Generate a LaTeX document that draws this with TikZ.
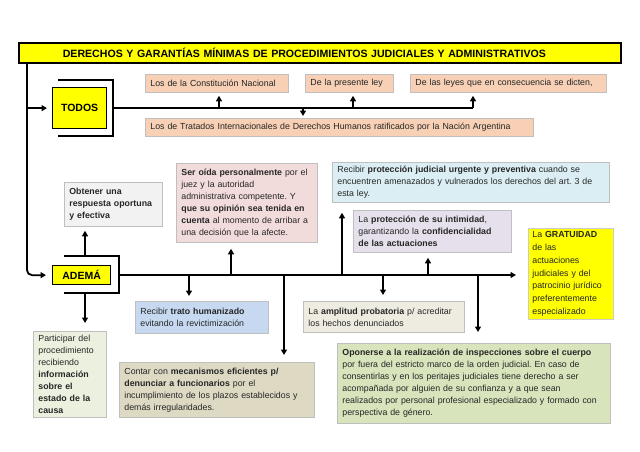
\documentclass[tikz,border=0pt]{standalone}
\usepackage{fontspec}
\setmainfont{Liberation Sans}
\usetikzlibrary{arrows.meta}
\frenchspacing
\definecolor{peach}{HTML}{F7D0B5}
\definecolor{pinkbox}{HTML}{F2DCDB}
\definecolor{lblue}{HTML}{DBEEF4}
\definecolor{lav}{HTML}{E5E0EC}
\definecolor{tblue}{HTML}{C6D9F1}
\definecolor{ampl}{HTML}{EEECE1}
\definecolor{cont}{HTML}{DDD9C3}
\definecolor{opon}{HTML}{D7E4BC}
\definecolor{part}{HTML}{EBF1DE}
\definecolor{obt}{HTML}{F2F2F2}
\definecolor{ylw}{HTML}{FFFF00}
\definecolor{bgray}{HTML}{BFBFBF}
\definecolor{txt}{HTML}{262626}
\tikzset{
  box/.style={draw=bgray, line width=0.8pt, anchor=north west, inner xsep=5pt, inner ysep=2pt,
    align=left, font=\fontsize{8.8}{12}\selectfont\frenchspacing, text=txt},
  ybox/.style={draw=black, line width=1.3pt, fill=ylw, anchor=north west, inner sep=0pt,
    font=\fontsize{10.5}{12}\selectfont\bfseries},
  ln/.style={line width=1.8pt, draw=black},
  arr/.style={ln, -{Triangle[length=5.5pt,width=6pt]}}
}
\begin{document}
\begin{tikzpicture}[x=1pt,y=-1pt]
\useasboundingbox[fill=white] (0,0) rectangle (640,452);

% title
\node[draw=black, line width=1.6pt, fill=ylw, anchor=north west, minimum width=602pt, minimum height=20pt,
  inner xsep=44pt, inner ysep=0pt, text width=514pt, align=left, font=\fontsize{10.6}{12}\selectfont\bfseries]
  (title) at (18,42) {DERECHOS Y GARANTÍAS MÍNIMAS DE PROCEDIMIENTOS JUDICIALES Y ADMINISTRATIVOS};

% TODOS section
\node[ybox, minimum width=54pt, minimum height=41pt] (todos) at (52,87) {TODOS};
\draw[ln] (58,80) -| (113,136) -- (58,136);

\node[box, fill=peach, minimum width=143pt, minimum height=18pt, text width=133pt] (const) at (145,74) {Los de la Constitución Nacional};
\node[box, fill=peach, minimum width=88pt, minimum height=18pt, text width=78pt] (presente) at (305,74) {De la presente ley};
\node[box, fill=peach, minimum width=196pt, minimum height=18pt, text width=186pt] (leyes) at (410,74) {De las leyes que en consecuencia se dicten,};
\node[box, fill=peach, minimum width=388pt, minimum height=18pt, text width=378pt] (tratados) at (145,118) {Los de Tratados Internacionales de Derechos Humanos ratificados por la Nación Argentina};

\coordinate (tb) at (113,108);
\coordinate (t1) at (219,108);
\coordinate (t2) at (353,108);
\coordinate (t3) at (473,108);
\coordinate (t4) at (303,108);
\draw[ln] (tb) -- (t3);
\draw[arr, shorten >=3pt] (t1) -- (t1 |- const.south);
\draw[arr, shorten >=3pt] (t2) -- (t2 |- presente.south);
\draw[arr, shorten >=3pt] (t3) -- (t3 |- leyes.south);
\draw[arr, shorten >=2pt] (t4) -- (t4 |- tratados.north);

% ADEMÁ section
\node[ybox, minimum width=58pt, minimum height=19pt] (adema) at (52,265) {ADEMÁ};
\draw[ln] (64,256) -| (119,293) -- (64,293);

% left vertical line
\coordinate (lx) at (27,0);
\draw[arr, shorten >=5pt] (lx |- todos.west) -- (todos.west);
\draw[arr, rounded corners=5pt, shorten >=6pt] (lx |- title.south) -- (lx |- adema.west) -- (adema.west);

% boxes
\node[box, fill=obt, minimum width=98pt, minimum height=44pt, text width=88pt, font=\fontsize{8.8}{12}\selectfont\bfseries] (obtener) at (64,182)
  {Obtener una\\respuesta oportuna\\y efectiva};
\node[box, fill=pinkbox, minimum width=141pt, minimum height=79pt, text width=131pt] (seroida) at (176,163)
  {\textbf{Ser oída personalmente} por el\\juez y la autoridad\\administrativa competente. Y\\\textbf{que su opinión sea tenida en}\\\textbf{cuenta} al momento de arribar a\\una decisión que la afecte.};
\node[box, fill=lblue, minimum width=277pt, minimum height=40pt, text width=267pt] (proteccion) at (332,162)
  {Recibir \textbf{protección judicial urgente y preventiva} cuando se\\encuentren amenazados y vulnerados los derechos del art. 3 de\\esta ley.};
\node[box, fill=lav, minimum width=158pt, minimum height=42pt, text width=148pt] (intimidad) at (353,210)
  {La \textbf{protección de su intimidad},\\garantizando la \textbf{confidencialidad}\\\textbf{de las actuaciones}};
\node[box, draw=black!20, fill=ylw, minimum width=85pt, minimum height=91pt, text width=77pt, inner xsep=4pt,
  font=\fontsize{8.8}{12.7}\selectfont] (gratuidad) at (528,228)
  {La \textbf{GRATUIDAD}\\de las\\actuaciones\\judiciales y del\\patrocinio jurídico\\preferentemente\\especializado};
\node[box, fill=tblue, minimum width=133pt, minimum height=32pt, text width=123pt] (trato) at (135,301)
  {Recibir \textbf{trato humanizado}\\evitando la revictimización};
\node[box, fill=ampl, minimum width=161pt, minimum height=31pt, text width=151pt] (amplitud) at (303,301)
  {La \textbf{amplitud probatoria} p/ acreditar\\los hechos denunciados};
\node[box, fill=cont, minimum width=195pt, minimum height=55pt, text width=185pt] (contar) at (119,362)
  {Contar con \textbf{mecanismos eficientes p/}\\\textbf{denunciar a funcionarios} por el\\incumplimiento de los plazos establecidos y\\demás irregularidades.};
\node[box, fill=opon, minimum width=273pt, minimum height=80pt, text width=263pt] (oponerse) at (337,343)
  {\textbf{Oponerse a la realización de inspecciones sobre el cuerpo}\\por fuera del estricto marco de la orden judicial. En caso de\\consentirlas y en los peritajes judiciales tiene derecho a ser\\acompañada por alguien de su confianza y a que sean\\realizados por personal profesional especializado y formado con\\perspectiva de género.};
\node[box, fill=part, minimum width=73pt, minimum height=86pt, text width=63pt] (participar) at (33,331)
  {Participar del\\procedimiento\\recibiendo\\\textbf{información}\\\textbf{sobre el}\\\textbf{estado de la}\\\textbf{causa}};

% ADEMÁ connectors
\coordinate (au) at (85,256);
\coordinate (ad) at (85,293);
\draw[arr, shorten >=4pt] (au) -- (au |- obtener.south);
\draw[arr, shorten >=8pt] (ad) -- (ad |- participar.north);

\coordinate (ab) at (119,275);
\coordinate (j1) at (231,275);
\coordinate (j2) at (342,275);
\coordinate (j3) at (428,275);
\coordinate (j4) at (189,275);
\coordinate (j5) at (284,275);
\coordinate (j6) at (383,275);
\coordinate (j7) at (478,275);
\draw[arr, shorten >=12pt] (ab) -- (ab -| gratuidad.west);
\draw[arr, shorten >=6pt] (j1) -- (j1 |- seroida.south);
\draw[arr, shorten >=10pt] (j2) -- (j2 |- proteccion.south);
\draw[arr, shorten >=5pt] (j3) -- (j3 |- intimidad.south);
\draw[arr, shorten >=5pt] (j4) -- (j4 |- trato.north);
\draw[arr, shorten >=7pt] (j5) -- (j5 |- contar.north);
\draw[arr, shorten >=6pt] (j6) -- (j6 |- amplitud.north);
\draw[arr, shorten >=11pt] (j7) -- (j7 |- oponerse.north);
\end{tikzpicture}
\end{document}
